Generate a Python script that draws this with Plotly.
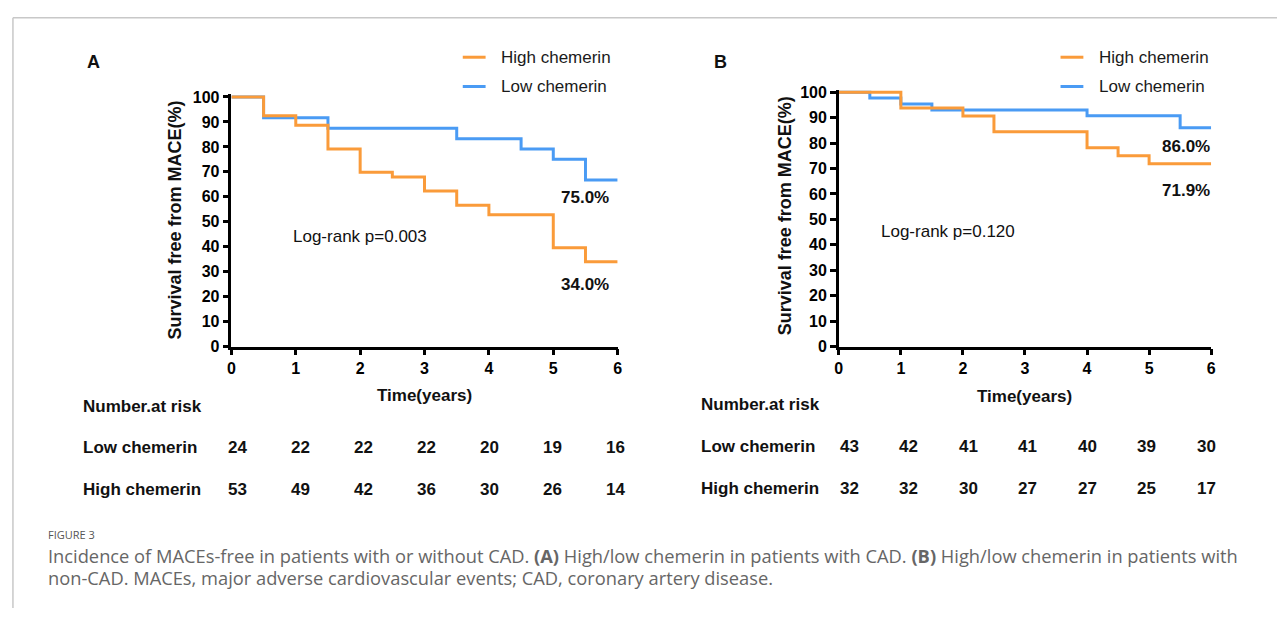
import plotly.graph_objects as go

W, H = 1282, 617

# ---------------- data ----------------
years = [0, 1, 2, 3, 4, 5, 6]
y_ticks = [0, 10, 20, 30, 40, 50, 60, 70, 80, 90, 100]

# Panel A (CAD)
a_high_t = [0, 0.5, 1, 1.5, 2, 2.5, 3, 3.5, 4, 5, 5.5, 6]
a_high_s = [100, 92.5, 88.7, 79.2, 69.8, 67.9, 62.3, 56.6, 52.8, 39.6, 34.0, 34.0]
a_low_t = [0, 0.5, 1.5, 3.5, 4.5, 5, 5.5, 6]
a_low_s = [100, 91.7, 87.5, 83.3, 79.2, 75.0, 66.7, 66.7]
a_risk_low = [24, 22, 22, 22, 20, 19, 16]
a_risk_high = [53, 49, 42, 36, 30, 26, 14]
a_pvalue = "Log-rank p=0.003"
a_pct = ["75.0%", "34.0%"]

# Panel B (non-CAD)
b_high_t = [0, 1, 2, 2.5, 4, 4.5, 5, 6]
b_high_s = [100, 93.75, 90.6, 84.4, 78.1, 75.0, 71.9, 71.9]
b_low_t = [0, 0.5, 1, 1.5, 4, 5.5, 6]
b_low_s = [100, 97.7, 95.3, 93.0, 90.7, 86.0, 86.0]
b_risk_low = [43, 42, 41, 41, 40, 39, 30]
b_risk_high = [32, 32, 30, 27, 27, 25, 17]
b_pvalue = "Log-rank p=0.120"
b_pct = ["86.0%", "71.9%"]

series_names = ["High chemerin", "Low chemerin"]
caption_title = "FIGURE 3"
caption_l1 = ("Incidence of MACEs-free in patients with or without CAD. <b>(A)</b> High/low chemerin in "
              "patients with CAD. <b>(B)</b> High/low chemerin in patients with")
caption_l2 = "non-CAD. MACEs, major adverse cardiovascular events; CAD, coronary artery disease."

ORANGE = "#FA9B3A"
BLUE = "#4A9BF4"
FONT = "Liberation Sans, Arial, sans-serif"


def px(x):
    return x / W


def py(y):
    return 1 - y / H


fig = go.Figure()

# traces: blue first, orange on top
fig.add_trace(go.Scatter(x=a_low_t, y=a_low_s, mode="lines", line=dict(color=BLUE, width=3, shape="hv"),
                         name=series_names[1], showlegend=False, xaxis="x", yaxis="y"))
fig.add_trace(go.Scatter(x=a_high_t, y=a_high_s, mode="lines", line=dict(color=ORANGE, width=3, shape="hv"),
                         name=series_names[0], showlegend=False, xaxis="x", yaxis="y"))
fig.add_trace(go.Scatter(x=b_low_t, y=b_low_s, mode="lines", line=dict(color=BLUE, width=3, shape="hv"),
                         name=series_names[1], showlegend=False, xaxis="x2", yaxis="y2"))
fig.add_trace(go.Scatter(x=b_high_t, y=b_high_s, mode="lines", line=dict(color=ORANGE, width=3, shape="hv"),
                         name=series_names[0], showlegend=False, xaxis="x2", yaxis="y2"))

tickfont = dict(family=FONT, size=16, color="black", weight="bold")
axis_common = dict(showline=True, linecolor="black", linewidth=2.5, ticks="outside", ticklen=6,
                   tickwidth=2.5, tickcolor="black", showgrid=False, zeroline=False, tickfont=tickfont,
                   fixedrange=True)

fig.update_layout(
    width=W, height=H, margin=dict(l=0, r=0, t=0, b=0),
    paper_bgcolor="white", plot_bgcolor="white",
    xaxis=dict(domain=[px(229), px(618)], range=[0, 6], tickvals=years, anchor="y", **axis_common),
    yaxis=dict(domain=[py(349), py(90.7)], range=[0, 101], tickvals=y_ticks, anchor="x", **axis_common),
    xaxis2=dict(domain=[px(840.7), px(1215.7)], range=[0, 6], tickvals=years, anchor="y2", **axis_common),
    yaxis2=dict(domain=[py(349), py(85.7)], range=[0, 101], tickvals=y_ticks, anchor="x2", **axis_common),
)

ann = []
shapes = []


def text(x, y, s, size=17, bold=False, xanchor="center", color="#111", angle=0, family=FONT):
    ann.append(dict(x=x, y=y, xref="paper", yref="paper", text=s, showarrow=False,
                    xanchor=xanchor, yanchor="middle", textangle=angle,
                    font=dict(family=family, size=size, color=color, weight="bold" if bold else "normal")))


panels = [
    dict(label="A", lab_x=90, leg_x=462, ytitle_x=172, ytitle_y=219, time_x=423, time_y=399,
         p_x=289, p_y=236, pct_x=585, pct_y=[196, 285], pvalue=a_pvalue, pct=a_pct,
         tbl_x=78, tbl_first=235, tbl_step=63.5, risk_low=a_risk_low, risk_high=a_risk_high,
         rows_y=[410, 453, 496]),
    dict(label="B", lab_x=722, leg_x=1064, ytitle_x=786, ytitle_y=215, time_x=1028, time_y=400,
         p_x=881, p_y=231, pct_x=1190, pct_y=[144, 189], pvalue=b_pvalue, pct=b_pct,
         tbl_x=700, tbl_first=851, tbl_step=60, risk_low=b_risk_low, risk_high=b_risk_high,
         rows_y=[408, 451, 495]),
]

for p in panels:
    text(px(p["lab_x"]), py(57), p["label"], size=18, bold=True)
    # legend
    for i, (nm, col) in enumerate(zip(series_names, [ORANGE, BLUE])):
        yy = 52.5 + 30 * i
        shapes.append(dict(type="line", xref="paper", yref="paper", x0=px(p["leg_x"]), x1=px(p["leg_x"] + 23),
                           y0=py(yy), y1=py(yy), line=dict(color=col, width=3)))
        text(px(p["leg_x"] + 37), py(yy), nm, size=17, xanchor="left", color="#1a1a1a")
    text(px(p["ytitle_x"]), py(p["ytitle_y"]), "Survival free from MACE(%)", size=18, bold=True, angle=-90)
    text(px(p["time_x"]), py(p["time_y"]), "Time(years)", size=17, bold=True)
    text(px(p["p_x"]), py(p["p_y"]), p["pvalue"], size=17, xanchor="left")
    for s, yy in zip(p["pct"], p["pct_y"]):
        text(px(p["pct_x"]), py(yy), s, size=17, bold=True)
    text(px(p["tbl_x"]), py(p["rows_y"][0]), "Number.at risk", size=17, bold=True, xanchor="left")
    text(px(p["tbl_x"]), py(p["rows_y"][1]), series_names[1], size=17, bold=True, xanchor="left")
    text(px(p["tbl_x"]), py(p["rows_y"][2]), series_names[0], size=17, bold=True, xanchor="left")
    for i, (lo, hi) in enumerate(zip(p["risk_low"], p["risk_high"])):
        xx = px(p["tbl_first"] + i * p["tbl_step"])
        text(xx, py(p["rows_y"][1]), str(lo), size=17, bold=True)
        text(xx, py(p["rows_y"][2]), str(hi), size=17, bold=True)

# caption
CAP = "Open Sans, Noto Sans, sans-serif"
text(px(42), py(542), caption_title, size=11, xanchor="left", color="#555", family=CAP)
text(px(42), py(563), caption_l1, size=18.3, xanchor="left", color="#666", family=CAP)
text(px(42), py(586), caption_l2, size=18.3, xanchor="left", color="#666", family=CAP)

# page frame
shapes.append(dict(type="line", xref="paper", yref="paper", x0=px(9), x1=1, y0=py(12), y1=py(12),
                   line=dict(color="#c8c8c8", width=1.5)))
shapes.append(dict(type="line", xref="paper", yref="paper", x0=px(9), x1=px(9), y0=py(12), y1=0,
                   line=dict(color="#c8c8c8", width=1.5)))

fig.update_layout(annotations=ann, shapes=shapes)
fig.write_html(
    "out.html",
    config={"displayModeBar": False},
    post_script=(
        "document.documentElement.style.margin='0';document.body.style.margin='0';"
        "document.body.style.overflow='hidden';"
        "var d=document.getElementById('{plot_id}');d.style.position='fixed';"
        "d.style.left='0px';d.style.top='0px';"
    ),
)
